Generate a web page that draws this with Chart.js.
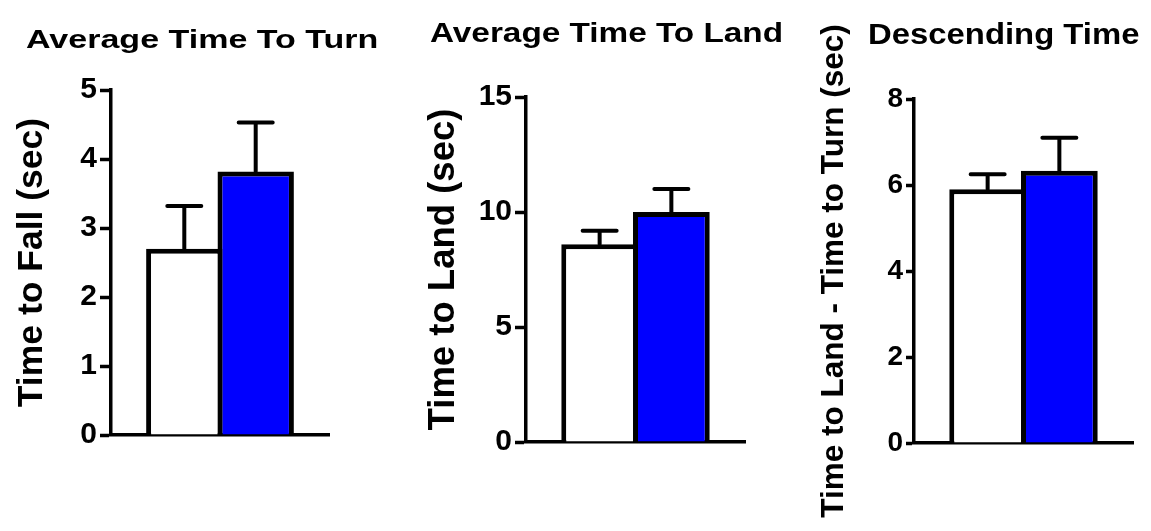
<!DOCTYPE html>
<html lang="en">
<head>
  <meta charset="UTF-8">
  <title>Turn / Land / Descending Time</title>
  <script src="https://cdn.jsdelivr.net/npm/chart.js"></script>
  <style>
    html, body { margin: 0; padding: 0; background: #fff; }
    #wrap { position: relative; width: 1151px; height: 531px; overflow: hidden; }
    #wrap canvas { position: absolute; left: 0; top: 0; }
    .title {
      position: absolute; white-space: nowrap; line-height: 1;
      font-family: 'Liberation Sans', Arial, sans-serif; font-weight: bold; color: #000;
      transform-origin: 0 0;
    }
  </style>
</head>
<body>
<div id="wrap">
  <canvas id="c0" width="1151" height="531"></canvas>
  <canvas id="c1" width="1151" height="531"></canvas>
  <canvas id="c2" width="1151" height="531"></canvas>
</div>
<script>
// one entry per panel, left to right
const panelTitles = ['Average Time To Turn', 'Average Time To Land', 'Descending Time'];
const yTitles = ['Time to Fall (sec)', 'Time to Land (sec)', 'Time to Land - Time to Turn (sec)'];
const whiteMeans = [2.70, 8.60, 5.90];
const whiteErrors = [0.62, 0.58, 0.35];
const blueMeans = [3.82, 10.00, 6.33];
const blueErrors = [0.71, 1.00, 0.77];
const yMax = [5, 15, 8];
const yStep = [1, 5, 2];

// layout of each panel (pixels)
const layouts = [
  { left: 0,   axisW: 111, right: 822, top: 90, bottom: 96, tickSize: 30, tickLen: 11, titleSize: 35.5, titlePad: 10.5,
    head: { x: 26,  y: 26, size: 26,   w: 352 } },
  { left: 400, axisW: 126, right: 406, top: 97, bottom: 89, tickSize: 30, tickLen: 11, titleSize: 36.5, titlePad: 22,
    head: { x: 430, y: 20, size: 27,   w: 353 } },
  { left: 790, axisW: 124, right: 18,  top: 99, bottom: 88, tickSize: 28, tickLen: 8,  titleSize: 31.5, titlePad: 25,
    head: { x: 868, y: 20, size: 29,   w: 272 } }
];

Chart.defaults.font.family = "'Liberation Sans', Arial, sans-serif";
Chart.defaults.color = '#000';

// mean + SEM error bars on top of each bar
const errorBars = {
  id: 'errorBars',
  afterDatasetsDraw(chart) {
    const ctx = chart.ctx;
    const y = chart.scales.y;
    chart.data.datasets.forEach((ds, i) => {
      chart.getDatasetMeta(i).data.forEach((bar, j) => {
        const top = y.getPixelForValue(ds.data[j] + ds.errors[j]);
        ctx.save();
        ctx.strokeStyle = '#000';
        ctx.lineWidth = 4;
        ctx.lineCap = 'round';
        ctx.beginPath();
        ctx.moveTo(bar.x, bar.y);
        ctx.lineTo(bar.x, top);
        ctx.moveTo(bar.x - 17, top);
        ctx.lineTo(bar.x + 17, top);
        ctx.stroke();
        ctx.restore();
      });
    });
  }
};

function makePanel(p) {
  const L = layouts[p];
  new Chart(document.getElementById('c' + p), {
    type: 'bar',
    data: {
      labels: [''],
      datasets: [{
        data: [whiteMeans[p]],
        errors: [whiteErrors[p]],
        backgroundColor: '#ffffff',
        borderColor: '#000000',
        borderWidth: 5,
        categoryPercentage: 0.655,
        barPercentage: 1.07
      }, {
        data: [blueMeans[p]],
        errors: [blueErrors[p]],
        backgroundColor: '#0000ff',
        borderColor: '#000000',
        borderWidth: 5,
        categoryPercentage: 0.655,
        barPercentage: 1.07
      }]
    },
    options: {
      responsive: false,
      animation: false,
      devicePixelRatio: 1,
      layout: { padding: { left: L.left, right: L.right, top: L.top, bottom: L.bottom } },
      plugins: { legend: { display: false }, tooltip: { enabled: false } },
      scales: {
        x: {
          grid: { display: false },
          border: { display: true, color: '#000', width: 3.5 },
          ticks: { display: false },
          afterFit: (s) => { s.height = 0; }
        },
        y: {
          min: 0,
          max: yMax[p],
          ticks: { stepSize: yStep[p], padding: 3, font: { size: L.tickSize, weight: 'bold' }, color: '#000' },
          grid: { display: true, drawOnChartArea: false, drawTicks: true, tickLength: L.tickLen, tickWidth: 3.5, tickColor: '#000' },
          border: { display: true, color: '#000', width: 3.5 },
          title: {
            display: true,
            text: yTitles[p],
            color: '#000',
            font: { size: L.titleSize, weight: 'bold' },
            padding: { top: L.titlePad, bottom: 0 }
          },
          afterFit: (s) => { s.width = L.axisW; }
        }
      }
    },
    plugins: [errorBars]
  });

  // panel heading, stretched wide like the original figure
  const h = document.createElement('div');
  h.className = 'title';
  h.textContent = panelTitles[p];
  h.style.left = L.head.x + 'px';
  h.style.top = L.head.y + 'px';
  h.style.fontSize = L.head.size + 'px';
  document.getElementById('wrap').appendChild(h);
  h.style.transform = 'scaleX(' + (L.head.w / h.offsetWidth).toFixed(3) + ')';
}

for (let p = 0; p < 3; p++) makePanel(p);
</script>
</body>
</html>
